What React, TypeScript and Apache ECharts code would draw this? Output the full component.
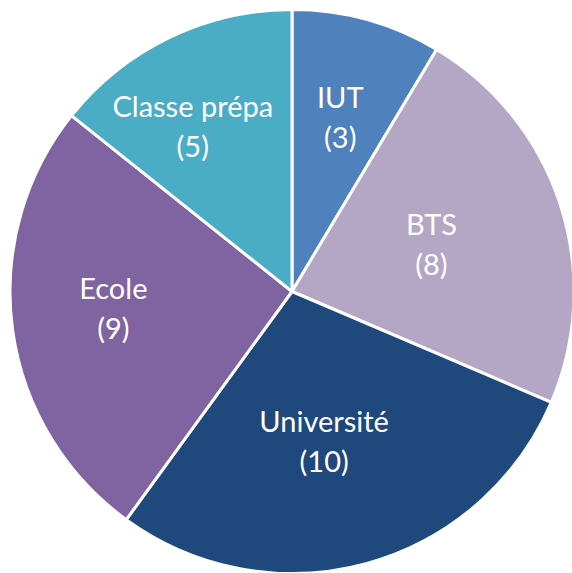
import React, { useEffect, useRef } from "react";
import * as echarts from "echarts";

const categories = ["IUT", "BTS", "Université", "Ecole", "Classe prépa"];
const values = [3, 8, 10, 9, 5];
const colors = ["#4F81BD", "#B3A7C5", "#1F497D", "#8064A2", "#4BACC6"];
// label placement: radial fraction of the radius, plus a small nudge in px
const labelRadius = [0.63, 0.52, 0.55, 0.64, 0.69];
const labelNudge = [
  [0, 0],
  [-3, -2],
  [-10, -4],
  [4, -9],
  [-13, 13],
];

const CX = 292;
const CY = 291.5;
const R = 282;

export default function App() {
  const ref = useRef<HTMLDivElement>(null);
  useEffect(() => {
    if (!ref.current) return;
    const chart = echarts.init(ref.current, null, { renderer: "svg" });
    chart.setOption({
      animation: false,
      backgroundColor: "#ffffff",
      series: [
        {
          type: "pie",
          center: [CX, CY],
          radius: [0, R],
          startAngle: 90,
          clockwise: true,
          avoidLabelOverlap: false,
          itemStyle: { borderColor: "#ffffff", borderWidth: 3 },
          emphasis: { disabled: true },
          label: {
            show: true,
            position: "inside",
            formatter: "{b}\n({c})",
            color: "#ffffff",
            fontFamily: "Lato, 'Open Sans', sans-serif",
            fontSize: 29,
            lineHeight: 40,
            align: "center",
          },
          labelLine: { show: false },
          labelLayout: (params: any) => {
            const r = params.labelRect;
            const lx = r.x + r.width / 2;
            const ly = r.y + r.height / 2;
            const i = params.dataIndex;
            const f = labelRadius[i] / 0.5 - 1;
            return {
              dx: (lx - CX) * f + labelNudge[i][0],
              dy: (ly - CY) * f + labelNudge[i][1],
            };
          },
          data: categories.map((name, i) => ({
            name,
            value: values[i],
            itemStyle: { color: colors[i] },
          })),
        },
      ],
    });
    return () => chart.dispose();
  }, []);
  return (
    <div
      ref={ref}
      style={{ position: "fixed", left: 0, top: 0, width: 572, height: 573 }}
    />
  );
}
